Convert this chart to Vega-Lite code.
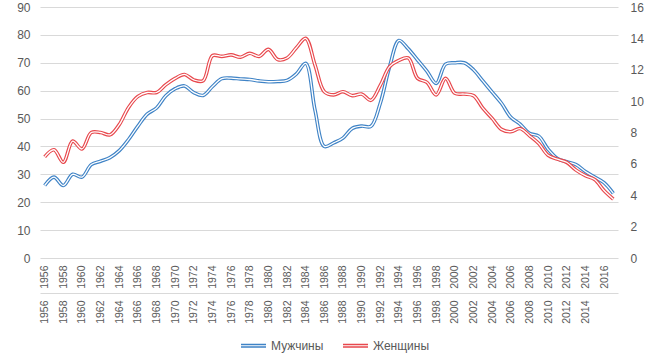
{
  "$schema": "https://vega.github.io/schema/vega-lite/v6.json",
  "autosize": "none",
  "width": 578,
  "height": 251,
  "padding": {"left": 40, "top": 7, "right": 32, "bottom": 106},
  "background": "white",
  "config": {
    "view": {"stroke": null},
    "font": "Liberation Sans",
    "axis": {"labelColor": "#595959", "labelFont": "Liberation Sans", "gridColor": "#d9d9d9", "domainColor": "#d9d9d9", "ticks": false, "title": null}
  },
  "data": {
    "values": [
      {"year": 1956, "men": 26, "women": 6.45},
      {"year": 1957, "men": 29, "women": 6.9},
      {"year": 1958, "men": 26, "women": 6.1},
      {"year": 1959, "men": 30, "women": 7.45},
      {"year": 1960, "men": 29, "women": 6.95},
      {"year": 1961, "men": 33.5, "women": 8.0},
      {"year": 1962, "men": 34.7, "women": 8.0},
      {"year": 1963, "men": 36, "women": 7.85},
      {"year": 1964, "men": 38.5, "women": 8.5},
      {"year": 1965, "men": 42.5, "women": 9.6},
      {"year": 1966, "men": 47.3, "women": 10.3},
      {"year": 1967, "men": 51.6, "women": 10.55},
      {"year": 1968, "men": 53.8, "women": 10.55},
      {"year": 1969, "men": 58.2, "women": 11.05},
      {"year": 1970, "men": 60.7, "women": 11.45},
      {"year": 1971, "men": 61.7, "women": 11.7},
      {"year": 1972, "men": 59.3, "women": 11.35},
      {"year": 1973, "men": 58.3, "women": 11.3},
      {"year": 1974, "men": 61.5, "women": 12.9},
      {"year": 1975, "men": 64.3, "women": 12.85},
      {"year": 1976, "men": 64.5, "women": 12.95},
      {"year": 1977, "men": 64.2, "women": 12.8},
      {"year": 1978, "men": 64, "women": 13.05},
      {"year": 1979, "men": 63.5, "women": 12.85},
      {"year": 1980, "men": 63.2, "women": 13.3},
      {"year": 1981, "men": 63.3, "women": 12.65},
      {"year": 1982, "men": 63.7, "women": 12.75},
      {"year": 1983, "men": 66, "women": 13.4},
      {"year": 1984, "men": 69.8, "women": 14.0},
      {"year": 1985, "men": 53, "women": 12.3},
      {"year": 1986, "men": 40, "women": 10.6},
      {"year": 1987, "men": 41.3, "women": 10.4},
      {"year": 1988, "men": 43, "women": 10.6},
      {"year": 1989, "men": 46.5, "women": 10.35},
      {"year": 1990, "men": 47.3, "women": 10.45},
      {"year": 1991, "men": 47.2, "women": 10.05},
      {"year": 1992, "men": 55.5, "women": 11.0},
      {"year": 1993, "men": 68.6, "women": 12.2},
      {"year": 1994, "men": 78, "women": 12.6},
      {"year": 1995, "men": 75, "women": 12.75},
      {"year": 1996, "men": 71, "women": 11.45},
      {"year": 1997, "men": 67, "women": 11.2},
      {"year": 1998, "men": 62.6, "women": 10.4},
      {"year": 1999, "men": 69.5, "women": 11.45},
      {"year": 2000, "men": 70, "women": 10.5},
      {"year": 2001, "men": 70, "women": 10.45},
      {"year": 2002, "men": 67.5, "women": 10.35},
      {"year": 2003, "men": 63.5, "women": 9.55},
      {"year": 2004, "men": 59.5, "women": 8.9},
      {"year": 2005, "men": 55.5, "women": 8.2},
      {"year": 2006, "men": 50.5, "women": 8.05},
      {"year": 2007, "men": 48, "women": 8.25},
      {"year": 2008, "men": 44.7, "women": 7.8},
      {"year": 2009, "men": 43.7, "women": 7.3},
      {"year": 2010, "men": 39, "women": 6.55},
      {"year": 2011, "men": 35.7, "women": 6.3},
      {"year": 2012, "men": 34.5, "women": 6.1},
      {"year": 2013, "men": 33.5, "women": 5.6},
      {"year": 2014, "men": 31, "women": 5.25},
      {"year": 2015, "men": 29, "women": 5.0},
      {"year": 2016, "men": 27, "women": 4.3},
      {"year": 2017, "men": 23.2, "women": 3.75}
    ]
  },
  "encoding": {
    "x": {"field": "year", "type": "ordinal", "scale": {"type": "point", "padding": 0.5}}
  },
  "layer": [
    {
      "mark": {"type": "line", "interpolate": "catmull-rom", "strokeWidth": 3.6},
      "encoding": {
        "x": {"field": "year", "type": "ordinal", "axis": {"orient": "bottom", "values": [1956,1958,1960,1962,1964,1966,1968,1970,1972,1974,1976,1978,1980,1982,1984,1986,1988,1990,1992,1994,1996,1998,2000,2002,2004,2006,2008,2010,2012,2014,2016], "labelAngle": -90, "labelFontSize": 10.5, "labelPadding": 7, "domain": false, "grid": false}},
        "y": {"field": "men", "type": "quantitative", "scale": {"domain": [0, 90], "nice": false}, "axis": {"orient": "left", "values": [0,10,20,30,40,50,60,70,80,90], "grid": true, "domain": false, "labelFontSize": 12, "labelPadding": 10}},
        "color": {"datum": "Мужчины", "type": "nominal", "scale": {"domain": ["Мужчины", "Женщины"], "range": ["#3F83C6", "#E8484D"]},
          "legend": {"title": null, "orient": "none", "legendX": 200, "legendY": 325, "direction": "horizontal", "symbolType": "M-1,-0.1L1,-0.1M-1,0.1L1,0.1", "symbolSize": 625, "symbolStrokeWidth": 1.3, "symbolFillColor": "transparent", "labelFontSize": 12, "labelColor": "#595959", "labelOffset": 4, "columnPadding": 16}}
      }
    },
    {
      "mark": {"type": "line", "interpolate": "catmull-rom", "strokeWidth": 1.3, "color": "white"},
      "encoding": {
        "x": {"field": "year", "type": "ordinal", "axis": {"orient": "bottom", "values": [1956,1958,1960,1962,1964,1966,1968,1970,1972,1974,1976,1978,1980,1982,1984,1986,1988,1990,1992,1994,1996,1998,2000,2002,2004,2006,2008,2010,2012,2014], "labelAngle": -90, "labelFontSize": 10.5, "labelPadding": 7, "offset": 35, "domain": true, "grid": false}},
        "y": {"field": "men", "type": "quantitative", "scale": {"domain": [0, 90], "nice": false}, "axis": null}
      }
    },
    {
      "mark": {"type": "line", "interpolate": "catmull-rom", "strokeWidth": 3.6},
      "encoding": {
        "x": {"field": "year", "type": "ordinal", "axis": null},
        "y": {"field": "women", "type": "quantitative", "scale": {"domain": [0, 16], "nice": false}, "axis": {"orient": "right", "values": [0,2,4,6,8,10,12,14,16], "grid": false, "domain": false, "labelFontSize": 12, "labelPadding": 12}},
        "color": {"datum": "Женщины", "type": "nominal"}
      }
    },
    {
      "mark": {"type": "line", "interpolate": "catmull-rom", "strokeWidth": 1.3, "color": "white"},
      "encoding": {
        "x": {"field": "year", "type": "ordinal", "axis": null},
        "y": {"field": "women", "type": "quantitative", "scale": {"domain": [0, 16], "nice": false}, "axis": null}
      }
    }
  ],
  "resolve": {"scale": {"y": "independent"}, "axis": {"x": "independent"}}
}
